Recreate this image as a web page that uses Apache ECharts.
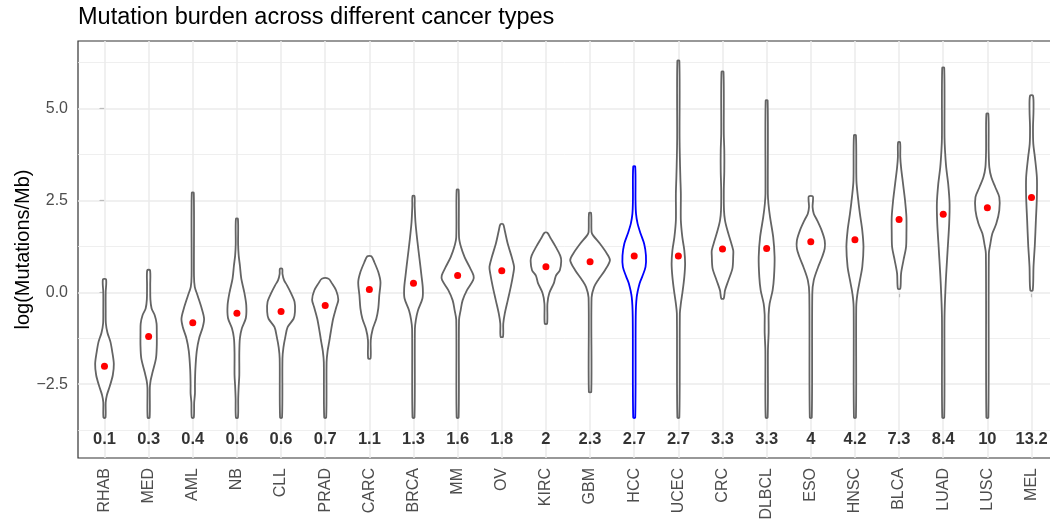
<!DOCTYPE html>
<html>
<head>
<meta charset="utf-8">
<script src="https://cdn.jsdelivr.net/npm/echarts@6/dist/echarts.min.js"></script>
<style>
  html, body { margin: 0; padding: 0; background: #ffffff; }
  #chart { width: 1050px; height: 521px; }
</style>
</head>
<body>
<div id="chart"></div>
<script>
// Cancer types, ordered by median mutation burden
const cancerTypes = ['RHAB', 'MED', 'AML', 'NB', 'CLL', 'PRAD', 'CARC', 'BRCA', 'MM', 'OV', 'KIRC',
  'GBM', 'HCC', 'UCEC', 'CRC', 'DLBCL', 'ESO', 'HNSC', 'BLCA', 'LUAD', 'LUSC', 'MEL'];

// Median mutations per Mb for each type
const medianBurden = [0.134, 0.30, 0.436, 0.565, 0.595, 0.70, 1.08, 1.28, 1.58, 1.80, 2.01,
  2.29, 2.69, 2.69, 3.26, 3.29, 3.96, 4.17, 7.27, 8.38, 9.98, 13.16];

const highlightType = 'HCC';

// y axis ticks and grid
const yTickValues = [-2.5, 0, 2.5, 5];
const yMinorValues = [-3.75, -1.25, 1.25, 3.75, 6.25];
const labelRowValue = -4;

// Violin outlines: [log(Mutations/Mb), relative density], bottom to top
const violinRHAB = [[-3.41,0.05],[-3.0,0.06],[-2.8,0.12],[-2.55,0.27],[-2.25,0.42],[-1.95,0.47],[-1.65,0.40],[-1.35,0.30],[-1.1,0.15],[-0.85,0.07],[-0.5,0.06],[0.0,0.06],[0.35,0.08]];
const violinMED = [[-3.41,0.05],[-2.6,0.06],[-2.4,0.1],[-2.17,0.2],[-1.8,0.37],[-1.45,0.41],[-1.1,0.41],[-0.85,0.40],[-0.63,0.31],[-0.44,0.15],[-0.2,0.09],[0.2,0.08],[0.6,0.07]];
const violinAML = [[-3.41,0.05],[-3.0,0.07],[-2.75,0.11],[-2.5,0.11],[-2.1,0.13],[-1.6,0.2],[-1.25,0.32],[-0.95,0.5],[-0.72,0.57],[-0.44,0.45],[-0.1,0.25],[0.15,0.1],[0.45,0.06],[2.71,0.05]];
const violinNB = [[-3.41,0.05],[-2.9,0.065],[-2.55,0.09],[-2.25,0.12],[-1.65,0.12],[-1.25,0.15],[-0.98,0.25],[-0.7,0.45],[-0.35,0.47],[0.0,0.37],[0.37,0.22],[0.73,0.15],[1.0,0.09],[1.3,0.06],[2.0,0.05]];
const violinCLL = [[-3.41,0.05],[-1.8,0.07],[-1.5,0.12],[-1.2,0.22],[-0.95,0.33],[-0.72,0.63],[-0.53,0.7],[-0.26,0.68],[0.0,0.48],[0.19,0.3],[0.33,0.15],[0.5,0.07],[0.64,0.06]];
const violinPRAD = [[-3.41,0.05],[-1.9,0.07],[-1.6,0.12],[-1.35,0.2],[-1.08,0.28],[-0.72,0.4],[-0.4,0.56],[-0.2,0.66],[0.05,0.55],[0.25,0.33],[0.37,0.17]];
const violinCARC = [[-1.8,0.06],[-1.3,0.07],[-1.0,0.17],[-0.72,0.35],[-0.44,0.45],[-0.08,0.5],[0.28,0.56],[0.55,0.45],[0.82,0.25],[0.98,0.1]];
const violinBRCA = [[-3.41,0.05],[-1.0,0.07],[-0.75,0.12],[-0.5,0.22],[-0.17,0.45],[0.1,0.47],[0.46,0.4],[0.92,0.3],[1.37,0.2],[1.9,0.1],[2.35,0.06],[2.62,0.05]];
const violinMM = [[-3.41,0.05],[-0.75,0.07],[-0.49,0.15],[-0.22,0.25],[0.06,0.47],[0.33,0.78],[0.46,0.8],[0.69,0.6],[0.96,0.35],[1.23,0.17],[1.5,0.07],[2.79,0.05]];
const violinOV = [[-1.21,0.06],[-0.85,0.075],[-0.58,0.15],[-0.22,0.3],[0.14,0.45],[0.51,0.58],[0.69,0.62],[0.96,0.5],[1.32,0.3],[1.68,0.15],[1.85,0.07]];
const violinKIRC = [[-0.85,0.06],[-0.31,0.075],[-0.02,0.17],[0.25,0.4],[0.45,0.5],[0.6,0.7],[0.85,0.77],[1.0,0.72],[1.23,0.5],[1.46,0.25],[1.62,0.07]];
const violinGBM = [[-2.71,0.06],[-0.15,0.075],[0.14,0.2],[0.33,0.4],[0.6,0.75],[0.87,1.0],[1.05,0.85],[1.32,0.5],[1.55,0.15],[1.64,0.075],[2.16,0.05]];
const violinHCC = [[-3.41,0.05],[-0.67,0.075],[-0.13,0.125],[0.24,0.27],[0.42,0.4],[0.69,0.57],[1.0,0.59],[1.32,0.5],[1.6,0.32],[1.87,0.17],[2.14,0.09],[2.5,0.065],[3.42,0.05]];
const violinUCEC = [[-3.41,0.05],[-0.58,0.075],[-0.31,0.125],[0.05,0.22],[0.42,0.3],[0.78,0.34],[1.14,0.3],[1.5,0.2],[1.96,0.125],[2.68,0.125],[3.13,0.1],[3.68,0.075],[4.22,0.06],[6.3,0.05]];
const violinCRC = [[-0.17,0.06],[0.05,0.125],[0.33,0.3],[0.65,0.5],[1.0,0.54],[1.14,0.54],[1.41,0.4],[1.68,0.25],[1.96,0.125],[2.23,0.075],[2.77,0.065],[3.3,0.09],[3.86,0.09],[4.31,0.065],[6.0,0.05]];
const violinDLBCL = [[-3.41,0.05],[-1.58,0.065],[-1.1,0.1],[-0.85,0.1],[-0.6,0.1],[-0.31,0.15],[0.05,0.3],[0.42,0.37],[0.96,0.4],[1.5,0.33],[2.05,0.17],[2.41,0.09],[2.68,0.06],[5.22,0.05]];
const violinESO = [[-3.41,0.05],[-0.04,0.075],[0.33,0.15],[0.69,0.37],[0.96,0.57],[1.19,0.7],[1.41,0.7],[1.68,0.55],[1.96,0.32],[2.14,0.15],[2.32,0.09],[2.5,0.11],[2.61,0.1]];
const violinHNSC = [[-3.41,0.05],[-0.4,0.065],[-0.04,0.125],[0.33,0.25],[0.69,0.37],[1.23,0.43],[1.68,0.37],[2.14,0.25],[2.59,0.15],[3.04,0.075],[4.27,0.05]];
const violinBLCA = [[0.1,0.06],[0.51,0.1],[0.87,0.22],[1.23,0.35],[1.6,0.37],[2.05,0.37],[2.5,0.3],[2.95,0.2],[3.4,0.1],[3.68,0.06],[4.08,0.05]];
const violinLUAD = [[-3.41,0.05],[-0.67,0.065],[0.24,0.125],[1.14,0.22],[1.87,0.3],[2.41,0.32],[2.95,0.25],[3.4,0.15],[3.86,0.09],[4.22,0.065],[6.11,0.05]];
const violinLUSC = [[-3.41,0.05],[1.05,0.075],[1.32,0.15],[1.6,0.25],[1.87,0.45],[2.23,0.6],[2.59,0.6],[2.86,0.4],[3.13,0.2],[3.4,0.1],[3.86,0.065],[4.86,0.05]];
const violinMEL = [[0.05,0.06],[0.69,0.1],[1.32,0.17],[1.96,0.22],[2.59,0.27],[3.13,0.27],[3.68,0.17],[4.04,0.09],[4.49,0.075],[4.95,0.1],[5.35,0.075]];

const violinProfiles = [violinRHAB, violinMED, violinAML, violinNB, violinCLL, violinPRAD, violinCARC,
  violinBRCA, violinMM, violinOV, violinKIRC, violinGBM, violinHCC, violinUCEC, violinCRC, violinDLBCL,
  violinESO, violinHNSC, violinBLCA, violinLUAD, violinLUSC, violinMEL];

const FONT = '"Liberation Sans", Arial, Helvetica, sans-serif';
const fmtMinus = v => (v < 0 ? '\u2212' : '') + Math.abs(v).toFixed(1);
const fmtMedian = m => String(Number(m.toFixed(1)));
const typeIndex = cancerTypes.map((c, i) => i);

const chart = echarts.init(document.getElementById('chart'), null, { renderer: 'canvas' });

// Each violin is a mirrored density outline around its category position
function renderViolin(params, api) {
  const idx = api.value(0);
  const profile = violinProfiles[idx];
  const halfWidth = api.size([1, 0])[0] * 0.45;
  const right = [], left = [];
  profile.forEach(([v, d]) => {
    const p = api.coord([idx, v]);
    right.push([p[0] + d * halfWidth, p[1]]);
    left.push([p[0] - d * halfWidth, p[1]]);
  });
  const points = right.concat(left.reverse());
  const stroke = cancerTypes[idx] === highlightType ? '#0000ff' : '#646464';
  return {
    type: 'polygon',
    shape: { points: points, smooth: 0.3 },
    style: { fill: '#ffffff', stroke: stroke, lineWidth: 1.8 }
  };
}

const gridLineSeries = {
  type: 'line',
  data: [],
  silent: true,
  z: 1,
  markLine: {
    silent: true,
    z: 1,
    symbol: ['none', 'none'],
    label: { show: false },
    animation: false,
    data: [
      ...yMinorValues.map(v => ({ yAxis: v, lineStyle: { color: '#ebebeb', width: 0.8, type: 'solid' } })),
      ...yTickValues.map(v => ({ yAxis: v, lineStyle: { color: '#ebebeb', width: 1.5, type: 'solid' } })),
      ...typeIndex.map(i => ({ xAxis: i, lineStyle: { color: '#ebebeb', width: 1.5, type: 'solid' } }))
    ]
  }
};

const option = {
  backgroundColor: '#ffffff',
  animation: false,
  title: {
    text: 'Mutation burden across different cancer types',
    left: 78,
    top: 6,
    padding: 0,
    textStyle: { fontFamily: FONT, fontSize: 23.5, fontWeight: 'normal', color: '#000000' }
  },
  grid: {
    left: 78, right: -8, top: 41, bottom: 63,
    containLabel: false,
    outerBoundsMode: 'none',
    show: true,
    borderColor: '#333333',
    borderWidth: 1.2,
    backgroundColor: 'transparent'
  },
  xAxis: {
    type: 'value',
    min: -0.6,
    max: 21.6,
    axisLine: { show: false },
    axisTick: { show: true, customValues: typeIndex, length: 5, lineStyle: { color: '#333333', width: 1.1 } },
    axisLabel: {
      customValues: typeIndex, rotate: 90, margin: 10, fontFamily: FONT, fontSize: 16, color: '#4d4d4d',
      formatter: v => cancerTypes[Math.round(v)]
    },
    splitLine: { show: false }
  },
  yAxis: {
    type: 'value',
    min: -4.51,
    max: 6.84,
    name: 'log(Mutations/Mb)',
    nameLocation: 'middle',
    nameGap: 45,
    nameRotate: 90,
    nameMoveOverlap: false,
    nameTextStyle: { fontFamily: FONT, fontSize: 20, color: '#000000' },
    axisLine: { show: false },
    axisTick: { show: true, customValues: yTickValues, length: 5, lineStyle: { color: '#333333', width: 1.1 } },
    axisLabel: { customValues: yTickValues, margin: 10, fontFamily: FONT, fontSize: 16, color: '#4d4d4d', formatter: v => fmtMinus(v) },
    splitLine: { show: false },
    minorSplitLine: { show: false }
  },
  series: [
    gridLineSeries,
    {
      type: 'custom',
      name: 'violin',
      z: 10,
      renderItem: renderViolin,
      encode: { x: 0, y: 1 },
      data: typeIndex.map(i => [i, Math.log(medianBurden[i])])
    },
    {
      type: 'scatter',
      name: 'median',
      z: 11,
      symbol: 'circle',
      symbolSize: 7,
      itemStyle: { color: '#ff0000', opacity: 1, borderWidth: 0 },
      data: typeIndex.map(i => [i, Math.log(medianBurden[i])])
    },
    {
      type: 'scatter',
      name: 'median label',
      z: 12,
      symbolSize: 1,
      itemStyle: { color: 'rgba(0,0,0,0)' },
      label: {
        show: true,
        position: 'inside',
        fontFamily: FONT,
        fontSize: 16.5,
        fontWeight: 'bold',
        color: '#000000',
        formatter: p => fmtMedian(medianBurden[p.dataIndex])
      },
      data: typeIndex.map(i => [i, labelRowValue])
    }
  ]
};

chart.setOption(option);
</script>
</body>
</html>
